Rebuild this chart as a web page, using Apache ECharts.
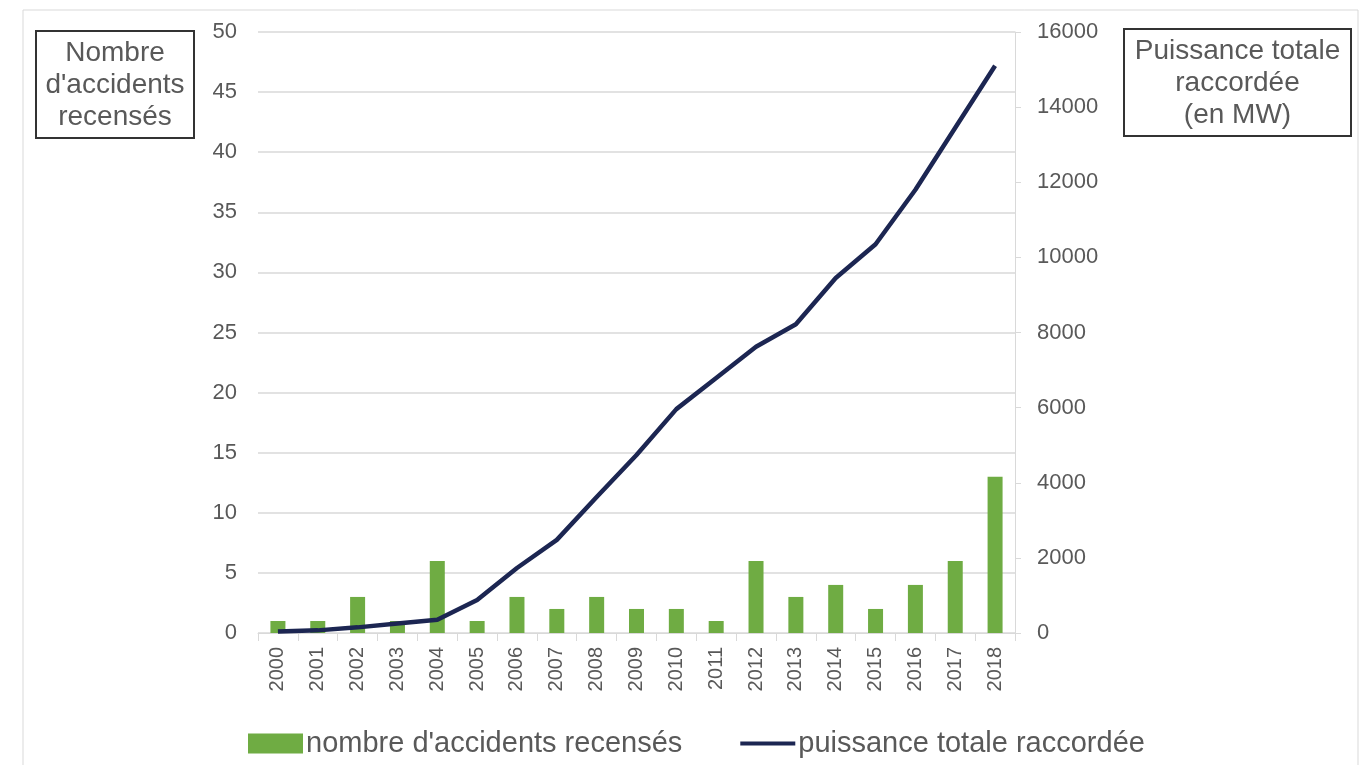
<!DOCTYPE html>
<html><head><meta charset="utf-8">
<script src="https://cdn.jsdelivr.net/npm/echarts@6/dist/echarts.min.js"></script>
<style>html,body{margin:0;padding:0;background:#fff}#c{width:1363px;height:765px}</style>
</head><body><div id="c"></div>
<script>
const years = ['2000','2001','2002','2003','2004','2005','2006','2007','2008','2009','2010','2011','2012','2013','2014','2015','2016','2017','2018'];
const accidents = [1,1,3,1,6,1,3,2,3,2,2,1,6,3,4,2,4,6,13];
const puissance = [40,70,150,250,350,880,1730,2480,3620,4740,5960,6790,7620,8220,9450,10350,11800,13450,15100];

const chart = echarts.init(document.getElementById('c'));
const font = 'Liberation Sans, Arial, sans-serif';
const grey = '#595959';
function box(x, y, w, h, txt) {
  return {type: 'group', left: x, top: y, silent: true, children: [
    {type: 'rect', shape: {x: 0, y: 0, width: w, height: h}, style: {fill: '#fff', stroke: '#333', lineWidth: 2}},
    {type: 'text', x: w / 2, y: h / 2 + 1, style: {text: txt, fill: grey, font: '28px ' + font, lineHeight: 32, align: 'center', verticalAlign: 'middle'}}
  ]};
}
chart.setOption({
  animation: false,
  graphic: [
    {type: 'rect', shape: {x: 23, y: 10, width: 1335, height: 760}, style: {fill: 'none', stroke: '#d9d9d9', lineWidth: 1}, silent: true, z: -1},
    box(35, 30, 158, 107, "Nombre\nd'accidents\nrecensés"),
    box(1123, 28, 227, 107, "Puissance totale\nraccordée\n(en MW)")
  ],
  grid: {left: 258, right: 348, top: 32, bottom: 132, containLabel: false},
  legend: {
    bottom: 2, left: 243, itemGap: 58, itemWidth: 55, itemHeight: 20,
    textStyle: {fontFamily: font, fontSize: 29, color: grey, padding: [0,0,0,-2]},
    data: [{name: "nombre d'accidents recensés", icon: 'rect'},
           {name: 'puissance totale raccordée', icon: 'path://M0,8 L56,8 L56,12 L0,12 Z'}]
  },
  xAxis: {
    type: 'category', data: years,
    axisLine: {lineStyle: {color: '#d9d9d9'}},
    axisTick: {show: true, length: 8, lineStyle: {color: '#d9d9d9'}},
    axisLabel: {rotate: 90, fontFamily: font, fontSize: 20, color: grey, margin: 14}
  },
  yAxis: [
    {type: 'value', min: 0, max: 50, interval: 5,
     axisLine: {show: false}, axisTick: {show: false},
     axisLabel: {fontFamily: font, fontSize: 22, color: grey, margin: 21},
     splitLine: {lineStyle: {color: '#d9d9d9', width: 1.5}}},
    {type: 'value', min: 0, max: 16000, interval: 2000, position: 'right',
     axisLine: {show: true, lineStyle: {color: '#d9d9d9'}},
     axisTick: {show: true, length: 6, lineStyle: {color: '#d9d9d9'}},
     axisLabel: {fontFamily: font, fontSize: 22, color: grey, margin: 22, formatter: v => String(v)},
     splitLine: {show: false}}
  ],
  series: [
    {name: "nombre d'accidents recensés", type: 'bar', data: accidents, barWidth: 15, itemStyle: {color: '#6fac43'}},
    {name: 'puissance totale raccordée', type: 'line', yAxisIndex: 1, data: puissance, showSymbol: false, symbol: 'none',
     lineStyle: {color: '#1c2652', width: 4.5}, itemStyle: {color: '#1c2652'}}
  ]
});
</script></body></html>
